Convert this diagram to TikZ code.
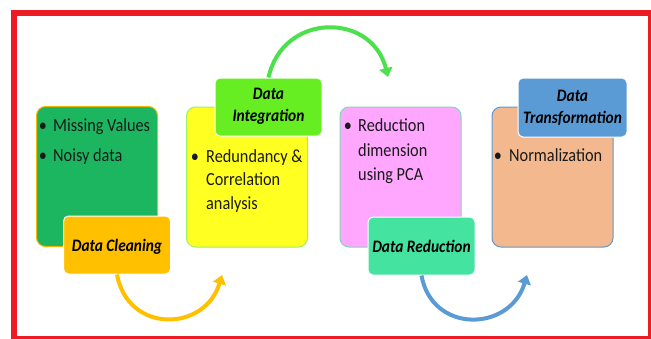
\documentclass[tikz,border=0pt]{standalone}
\usepackage{fontspec}
\setmainfont{Carlito}[FakeStretch=0.88]
\usetikzlibrary{arrows.meta}

\definecolor{frame}{HTML}{ED1C24}
\definecolor{cleanbody}{HTML}{1DB660}
\definecolor{cleanedge}{HTML}{F2B705}
\definecolor{cleantag}{HTML}{FFC000}
\definecolor{integbody}{HTML}{FFFF22}
\definecolor{integedge}{HTML}{9CF06A}
\definecolor{integtag}{HTML}{66EE22}
\definecolor{integflow}{HTML}{4CE04C}
\definecolor{redbody}{HTML}{FFA6FF}
\definecolor{rededge}{HTML}{7ED8B8}
\definecolor{redtag}{HTML}{45E3A0}
\definecolor{transbody}{HTML}{F4B88E}
\definecolor{transtag}{HTML}{5B9BD5}
\definecolor{ink}{HTML}{1A1A1A}

\begin{document}
\begin{tikzpicture}[x=1pt,y=-1pt,
  panel/.style={draw, line width=1pt, rounded corners=9pt, inner sep=0,
    minimum width=121pt, minimum height=140pt},
  tag/.style={draw=white, line width=1pt, rounded corners=5pt, inner sep=0,
    minimum width=107pt, minimum height=58pt},
  body/.style={font=\fontsize{18.5}{24}\selectfont, text=ink, inner sep=0,
    anchor=base west},
  bul/.style={font=\fontsize{18.5}{24}\selectfont, text=ink, inner sep=0,
    anchor=base},
  tagtext/.style={font=\fontsize{17.5}{22}\selectfont\bfseries\itshape,
    text=black, inner sep=0, anchor=base},
  flow/.style={line width=4pt, -{Triangle[width=13pt,length=9pt]}}
]
\useasboundingbox (0,0) rectangle (651,338);

% red frame
\fill[frame] (11,9.5) rectangle (660,345);
\fill[white] (16.5,16) rectangle (648,336);

% stage panels
\node[panel, draw=cleanedge, fill=cleanbody] (p1) at (97,176.5) {};
\node[panel, draw=integedge, fill=integbody] (p2) at (247,177) {};
\node[panel, draw=rededge, fill=redbody] (p3) at (400.5,177) {};
\node[panel, draw=transtag, fill=transbody] (p4) at (552.5,177) {};

% stage tags
\node[tag, fill=cleantag] (clean) at (117,245) {};
\node[tag, fill=integtag] (integ) at (268.5,107) {};
\node[tag, fill=redtag] (reduc) at (421.5,246) {};
\node[tag, fill=transtag, minimum width=109pt, minimum height=59pt] (trans) at (572.5,107.5) {};

% flow arrows between stages
\coordinate (e1) at (222,275);
\coordinate (e2) at (388,77);
\coordinate (e3) at (527,275);
\draw[flow, cleantag] (clean.south) .. controls (128,334) and (205,332) .. (e1);
\draw[flow, integflow] (integ.north) .. controls (283,12) and (372,12) .. (e2);
\draw[flow, transtag] (reduc.south) .. controls (432,334) and (510,332) .. (e3);

% tag captions
\node[tagtext] (c1) at (117,251) {Data Cleaning};
\node[tagtext] (c2a) at (268.5,99) {Data};
\node[tagtext] (c2b) at (268.5,121) {Integration};
\node[tagtext] (c3) at (421.5,252) {Data Reduction};
\node[tagtext] (c4a) at (572.5,101) {Data};
\node[tagtext] (c4b) at (572.5,123) {Transformation};

% panel contents
\node[bul] (b1) at (43,131) {•};
\node[body] (l1) at (53,131) {Missing Values};
\node[bul] (b2) at (43,161) {•};
\node[body] (l2) at (53,161) {Noisy data};

\node[bul] (b3) at (195,162) {•};
\node[body] (l3) at (206,162) {Redundancy \&};
\node[body] (l4) at (206,185.5) {Correlation};
\node[body] (l5) at (206,209) {analysis};

\node[bul] (b4) at (348,131) {•};
\node[body] (l6) at (358,131) {Reduction};
\node[body] (l7) at (358,156) {dimension};
\node[body] (l8) at (358,180.5) {using PCA};

\node[bul] (b5) at (498,161) {•};
\node[body] (l9) at (509,161) {Normalization};
\end{tikzpicture}
\end{document}
